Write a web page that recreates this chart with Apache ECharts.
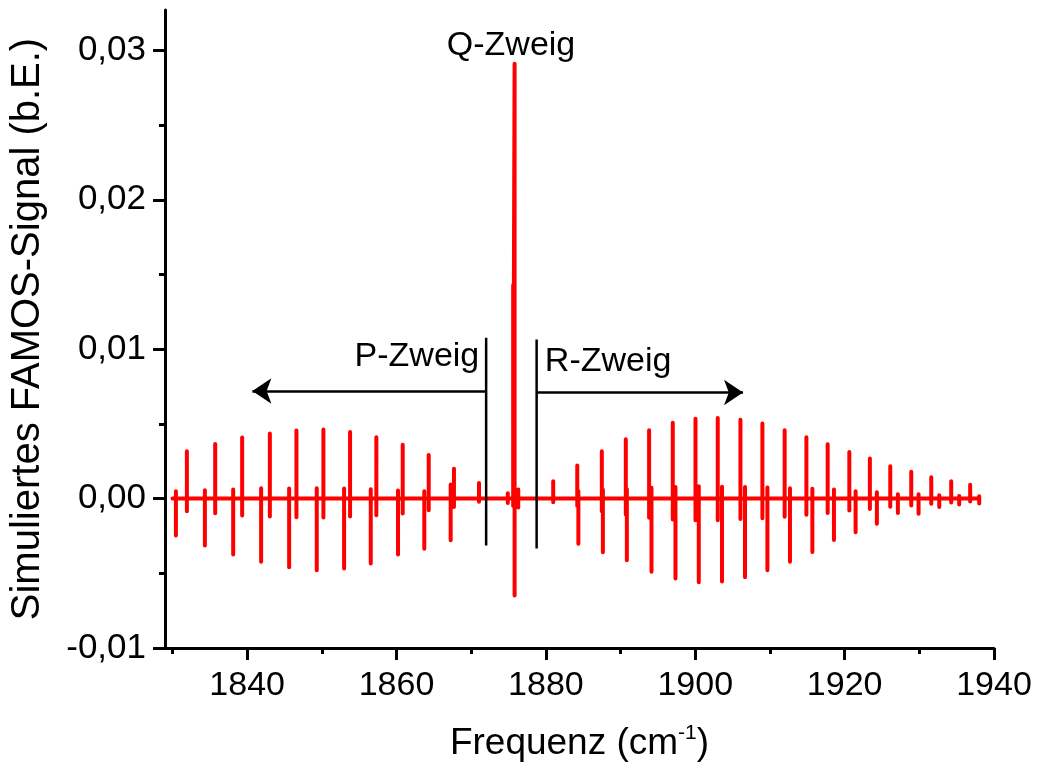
<!DOCTYPE html>
<html>
<head>
<meta charset="utf-8">
<script src="https://cdn.jsdelivr.net/npm/echarts@6/dist/echarts.min.js"></script>
<style>
html,body{margin:0;padding:0;background:#fff;}
#chart{width:1039px;height:762px;}
</style>
</head>
<body>
<div id="chart"></div>
<script>
// ---- axis ticks ----
const xTicks = [1840, 1860, 1880, 1900, 1920, 1940];
const xMinorTicks = [1830, 1850, 1870, 1890, 1910, 1930];
const yTicks = [-0.01, 0, 0.01, 0.02, 0.03];
const yMinorTicks = [-0.005, 0.005, 0.015, 0.025];

// ---- spectral lines (wavenumber, positive lobe, negative lobe) ----
const lineX = [
  1830.46, 1831.93, 1834.34, 1835.72, 1838.13, 1839.33, 1841.87, 1843.04,
  1845.62, 1846.60, 1849.32, 1850.21, 1852.98, 1853.78, 1856.55, 1857.30,
  1860.20, 1860.83, 1863.72, 1864.31, 1867.25, 1867.69, 1871.04,
  1874.90, 1875.62, 1875.81, 1876.30,
  1880.98, 1884.20, 1884.35, 1887.49, 1887.63, 1890.70, 1890.84,
  1893.82, 1894.14, 1896.99, 1897.35, 1900.03, 1900.47, 1903.01, 1903.58,
  1906.05, 1906.66, 1908.99, 1909.66, 1911.97, 1912.68, 1914.88, 1915.68,
  1917.73, 1918.57, 1920.63, 1921.47, 1923.38, 1924.32, 1926.11, 1927.13,
  1928.92, 1929.90, 1931.60, 1932.67, 1934.27, 1935.34, 1936.81, 1938.02
];
const lineTop = [
  0.00049, 0.00316, 0.00056, 0.00366, 0.00060, 0.00408, 0.00069, 0.00435,
  0.00067, 0.00455, 0.00069, 0.00462, 0.00067, 0.00446, 0.00062, 0.00410,
  0.00054, 0.00361, 0.00049, 0.00292, 0.00094, 0.00200, 0.00105,
  0.00035, 0.01430, 0.02910, 0.00060,
  0.00116, 0.00221, 0.00050, 0.00316, 0.00060, 0.00397, 0.00062,
  0.00457, 0.00072, 0.00508, 0.00078, 0.00535, 0.00082, 0.00540, 0.00080,
  0.00528, 0.00078, 0.00502, 0.00074, 0.00457, 0.00069, 0.00410, 0.00065,
  0.00363, 0.00060, 0.00312, 0.00049, 0.00268, 0.00042, 0.00216, 0.00029,
  0.00179, 0.00029, 0.00142, 0.00022, 0.00116, 0.00018, 0.00092, 0.00015
];
const lineBottom = [
  -0.00247, -0.00085, -0.00314, -0.00098, -0.00375, -0.00114, -0.00423, -0.00120,
  -0.00460, -0.00125, -0.00480, -0.00127, -0.00468, -0.00120, -0.00435, -0.00112,
  -0.00375, -0.00100, -0.00336, -0.00078, -0.00279, -0.00056, -0.00022,
  -0.00030, -0.00050, -0.00649, -0.00060,
  -0.00025, -0.00050, -0.00303, -0.00085, -0.00359, -0.00107, -0.00413,
  -0.00129, -0.00490, -0.00140, -0.00535, -0.00145, -0.00560, -0.00145, -0.00555,
  -0.00136, -0.00526, -0.00132, -0.00480, -0.00122, -0.00423, -0.00109, -0.00357,
  -0.00096, -0.00278, -0.00080, -0.00225, -0.00069, -0.00169, -0.00054, -0.00096,
  -0.00047, -0.00102, -0.00035, -0.00056, -0.00027, -0.00040, -0.00020, -0.00033
];
const spectrumStart = 1830.0;
const spectrumEnd = 1938.1;

// ---- branch markers ----
const pBar = {x: 1872.0, top: 0.01077, bottom: -0.00314};
const rBar = {x: 1878.76, top: 0.01064, bottom: -0.00334};
const pArrow = {from: 1872.0, to: 1840.7, y: 0.0072};
const rArrow = {from: 1878.76, to: 1906.4, y: 0.0071};
const labels = [
  {name: 'Q-Zweig', x: 1875.4, y: 0.0303},
  {name: 'P-Zweig', x: 1862.8, y: 0.0095},
  {name: 'R-Zweig', x: 1888.4, y: 0.00916}
];

// ---- build spectrum polyline ----
const order = lineX.map((v, i) => i).sort((a, b) => lineX[a] - lineX[b]);
const spectrum = [[spectrumStart, 0]];
order.forEach(i => {
  spectrum.push([lineX[i], 0], [lineX[i], lineTop[i]], [lineX[i], lineBottom[i]], [lineX[i], 0]);
});
spectrum.push([spectrumEnd, 0]);

const FONT = 'Liberation Sans, Arial, sans-serif';
const fmt = v => v.toFixed(2).replace('.', ',');

const gridBox = {left: 165, right: 45, top: 10, bottom: 114, containLabel: false, outerBoundsMode: 'none'};
const chart = echarts.init(document.getElementById('chart'), null, {renderer: 'canvas'});

const option = {
  backgroundColor: '#ffffff',
  animation: false,
  grid: [Object.assign({}, gridBox), Object.assign({}, gridBox)],
  xAxis: [{
    type: 'value', gridIndex: 0, min: 1829, max: 1940,
    name: '{t|Frequenz (cm}{s|-1}{t|)}',
    nameLocation: 'middle', nameGap: 75,
    nameTextStyle: {
      rich: {
        t: {fontSize: 37, fontFamily: FONT, color: '#000', lineHeight: 42},
        s: {fontSize: 21, fontFamily: FONT, color: '#000', lineHeight: 22, verticalAlign: 'top'}
      }
    },
    axisLine: {show: true, onZero: false, lineStyle: {color: '#000', width: 3}},
    axisTick: {show: true, inside: false, length: 12, lineStyle: {color: '#000', width: 3}, customValues: xTicks},
    axisLabel: {show: true, margin: 21, fontSize: 34, fontFamily: FONT, color: '#000', customValues: xTicks, formatter: v => String(v)},
    splitLine: {show: false}
  }, {
    type: 'value', gridIndex: 1, min: 1829, max: 1940,
    axisLine: {show: false, onZero: false},
    axisTick: {show: true, length: 6, lineStyle: {color: '#000', width: 3}, customValues: xMinorTicks},
    axisLabel: {show: false},
    splitLine: {show: false}
  }],
  yAxis: [{
    type: 'value', gridIndex: 0, min: -0.01, max: 0.0327,
    name: 'Simuliertes FAMOS-Signal (b.E.)',
    nameLocation: 'middle', nameGap: 117,
    nameTextStyle: {fontSize: 40, fontFamily: FONT, color: '#000'},
    axisLine: {show: true, onZero: false, lineStyle: {color: '#000', width: 3}},
    axisTick: {show: true, length: 12, lineStyle: {color: '#000', width: 3}, customValues: yTicks},
    axisLabel: {show: true, margin: 19, fontSize: 35, fontFamily: FONT, color: '#000', customValues: yTicks, formatter: fmt},
    splitLine: {show: false}
  }, {
    type: 'value', gridIndex: 1, min: -0.01, max: 0.0327,
    axisLine: {show: false, onZero: false},
    axisTick: {show: true, length: 6, lineStyle: {color: '#000', width: 3}, customValues: yMinorTicks},
    axisLabel: {show: false},
    splitLine: {show: false}
  }],
  series: [
    {
      type: 'line', xAxisIndex: 0, yAxisIndex: 0, data: spectrum,
      symbol: 'none', showSymbol: false, clip: false, z: 3,
      lineStyle: {color: '#ff0000', width: 4, join: 'round', cap: 'round'}
    },
    {
      type: 'line', xAxisIndex: 0, yAxisIndex: 0, symbol: 'none', z: 4,
      data: [[pBar.x, pBar.top], [pBar.x, pBar.bottom]],
      lineStyle: {color: '#000', width: 2.5}
    },
    {
      type: 'line', xAxisIndex: 0, yAxisIndex: 0, symbol: 'none', z: 4,
      data: [[rBar.x, rBar.top], [rBar.x, rBar.bottom]],
      lineStyle: {color: '#000', width: 2.5}
    },
    {
      type: 'lines', coordinateSystem: 'cartesian2d', xAxisIndex: 0, yAxisIndex: 0, z: 4,
      symbol: ['none', 'arrow'], symbolSize: [0, 19],
      lineStyle: {color: '#000', width: 2.5, opacity: 1, curveness: 0},
      data: [
        {coords: [[pArrow.from, pArrow.y], [pArrow.to, pArrow.y]]},
        {coords: [[rArrow.from, rArrow.y], [rArrow.to, rArrow.y]]}
      ]
    },
    {
      type: 'scatter', xAxisIndex: 0, yAxisIndex: 0, z: 5, symbolSize: 1,
      itemStyle: {color: 'rgba(0,0,0,0)'},
      emphasis: {disabled: true},
      label: {show: true, position: [0, 0], align: 'center', verticalAlign: 'middle',
        formatter: p => p.data.name, fontSize: 34, fontFamily: FONT, color: '#000000', opacity: 1},
      data: labels.map(l => ({name: l.name, value: [l.x, l.y]}))
    }
  ]
};
chart.setOption(option);
</script>
</body>
</html>
